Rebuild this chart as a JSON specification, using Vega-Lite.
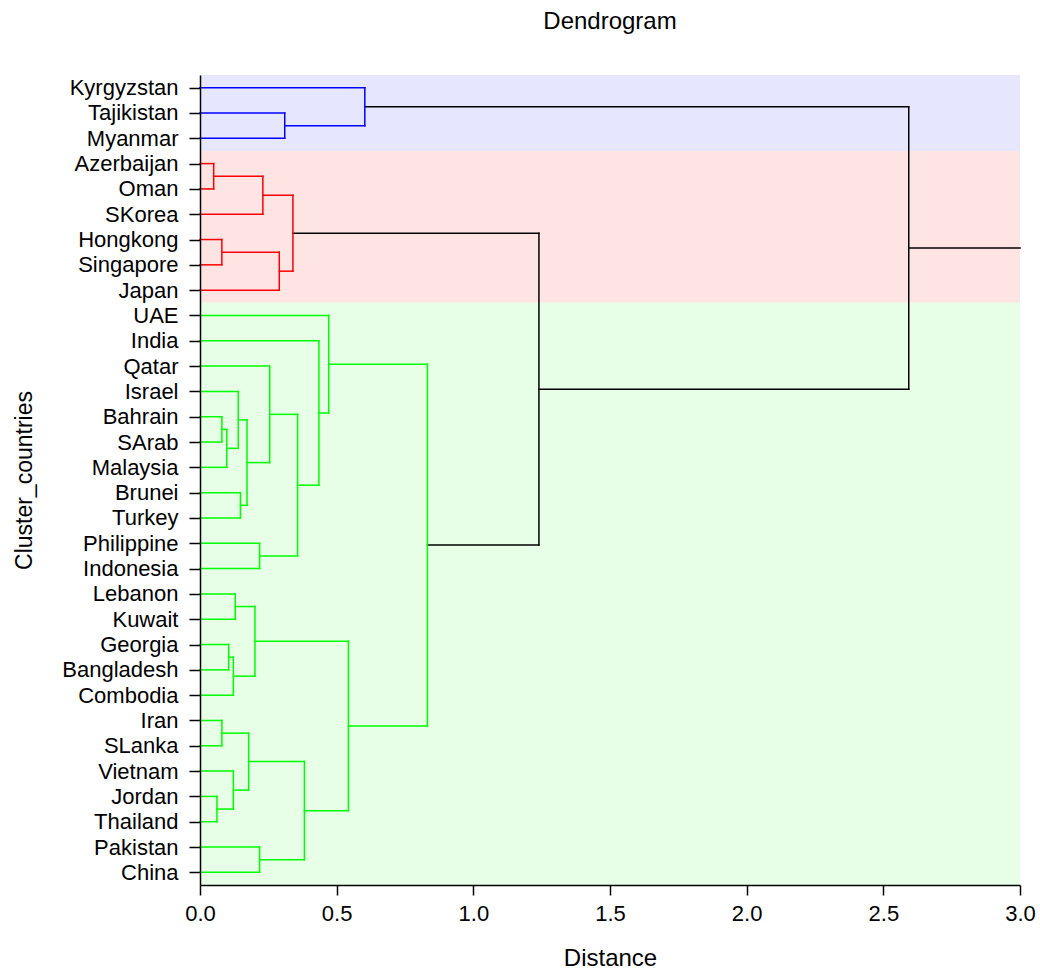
{
  "$schema": "https://vega.github.io/schema/vega-lite/v6.json",
  "width": 820,
  "height": 810,
  "autosize": {"type": "none"},
  "padding": {"left": 200, "top": 75, "right": 20, "bottom": 84},
  "background": "white",
  "title": {"text": "Dendrogram", "fontSize": 24, "font": "Liberation Sans", "fontWeight": "normal", "color": "black", "anchor": "middle", "baseline": "alphabetic", "offset": 22},
  "config": {"view": {"stroke": null}, "font": "Liberation Sans",
    "axis": {"labelOverlap": false, "labelFlush": false, "grid": false}},
  "datasets": {
    "bands": [
      {"y": -0.5, "y2": 2.5, "c": "blue"},
      {"y": 2.5, "y2": 8.5, "c": "red"},
      {"y": 8.5, "y2": 31.5, "c": "green"}
    ],
    "segs": [
      {"x": 0, "x2": 0.603, "y": 0, "y2": 0, "c": "blue"},
      {"x": 0, "x2": 0.31, "y": 1, "y2": 1, "c": "blue"},
      {"x": 0, "x2": 0.31, "y": 2, "y2": 2, "c": "blue"},
      {"x": 0, "x2": 0.05, "y": 3, "y2": 3, "c": "red"},
      {"x": 0, "x2": 0.05, "y": 4, "y2": 4, "c": "red"},
      {"x": 0, "x2": 0.23, "y": 5, "y2": 5, "c": "red"},
      {"x": 0, "x2": 0.08, "y": 6, "y2": 6, "c": "red"},
      {"x": 0, "x2": 0.08, "y": 7, "y2": 7, "c": "red"},
      {"x": 0, "x2": 0.29, "y": 8, "y2": 8, "c": "red"},
      {"x": 0, "x2": 0.471, "y": 9, "y2": 9, "c": "green"},
      {"x": 0, "x2": 0.435, "y": 10, "y2": 10, "c": "green"},
      {"x": 0, "x2": 0.255, "y": 11, "y2": 11, "c": "green"},
      {"x": 0, "x2": 0.14, "y": 12, "y2": 12, "c": "green"},
      {"x": 0, "x2": 0.08, "y": 13, "y2": 13, "c": "green"},
      {"x": 0, "x2": 0.08, "y": 14, "y2": 14, "c": "green"},
      {"x": 0, "x2": 0.098, "y": 15, "y2": 15, "c": "green"},
      {"x": 0, "x2": 0.148, "y": 16, "y2": 16, "c": "green"},
      {"x": 0, "x2": 0.148, "y": 17, "y2": 17, "c": "green"},
      {"x": 0, "x2": 0.218, "y": 18, "y2": 18, "c": "green"},
      {"x": 0, "x2": 0.218, "y": 19, "y2": 19, "c": "green"},
      {"x": 0, "x2": 0.129, "y": 20, "y2": 20, "c": "green"},
      {"x": 0, "x2": 0.129, "y": 21, "y2": 21, "c": "green"},
      {"x": 0, "x2": 0.105, "y": 22, "y2": 22, "c": "green"},
      {"x": 0, "x2": 0.105, "y": 23, "y2": 23, "c": "green"},
      {"x": 0, "x2": 0.122, "y": 24, "y2": 24, "c": "green"},
      {"x": 0, "x2": 0.08, "y": 25, "y2": 25, "c": "green"},
      {"x": 0, "x2": 0.08, "y": 26, "y2": 26, "c": "green"},
      {"x": 0, "x2": 0.122, "y": 27, "y2": 27, "c": "green"},
      {"x": 0, "x2": 0.062, "y": 28, "y2": 28, "c": "green"},
      {"x": 0, "x2": 0.062, "y": 29, "y2": 29, "c": "green"},
      {"x": 0, "x2": 0.218, "y": 30, "y2": 30, "c": "green"},
      {"x": 0, "x2": 0.218, "y": 31, "y2": 31, "c": "green"},
      {"x": 0.31, "x2": 0.603, "y": 1.5, "y2": 1.5, "c": "blue"},
      {"x": 0.603, "x2": 2.593, "y": 0.75, "y2": 0.75, "c": "black"},
      {"x": 0.05, "x2": 0.23, "y": 3.5, "y2": 3.5, "c": "red"},
      {"x": 0.23, "x2": 0.34, "y": 4.25, "y2": 4.25, "c": "red"},
      {"x": 0.08, "x2": 0.29, "y": 6.5, "y2": 6.5, "c": "red"},
      {"x": 0.29, "x2": 0.34, "y": 7.25, "y2": 7.25, "c": "red"},
      {"x": 0.34, "x2": 1.24, "y": 5.75, "y2": 5.75, "c": "black"},
      {"x": 0.08, "x2": 0.098, "y": 13.5, "y2": 13.5, "c": "green"},
      {"x": 0.098, "x2": 0.14, "y": 14.25, "y2": 14.25, "c": "green"},
      {"x": 0.14, "x2": 0.172, "y": 13.125, "y2": 13.125, "c": "green"},
      {"x": 0.148, "x2": 0.172, "y": 16.5, "y2": 16.5, "c": "green"},
      {"x": 0.172, "x2": 0.255, "y": 14.8125, "y2": 14.8125, "c": "green"},
      {"x": 0.255, "x2": 0.357, "y": 12.906, "y2": 12.906, "c": "green"},
      {"x": 0.218, "x2": 0.357, "y": 18.5, "y2": 18.5, "c": "green"},
      {"x": 0.357, "x2": 0.435, "y": 15.703, "y2": 15.703, "c": "green"},
      {"x": 0.435, "x2": 0.471, "y": 12.852, "y2": 12.852, "c": "green"},
      {"x": 0.471, "x2": 0.832, "y": 10.926, "y2": 10.926, "c": "green"},
      {"x": 0.129, "x2": 0.201, "y": 20.5, "y2": 20.5, "c": "green"},
      {"x": 0.105, "x2": 0.122, "y": 22.5, "y2": 22.5, "c": "green"},
      {"x": 0.122, "x2": 0.201, "y": 23.25, "y2": 23.25, "c": "green"},
      {"x": 0.201, "x2": 0.543, "y": 21.875, "y2": 21.875, "c": "green"},
      {"x": 0.08, "x2": 0.178, "y": 25.5, "y2": 25.5, "c": "green"},
      {"x": 0.062, "x2": 0.122, "y": 28.5, "y2": 28.5, "c": "green"},
      {"x": 0.122, "x2": 0.178, "y": 27.75, "y2": 27.75, "c": "green"},
      {"x": 0.178, "x2": 0.382, "y": 26.625, "y2": 26.625, "c": "green"},
      {"x": 0.218, "x2": 0.382, "y": 30.5, "y2": 30.5, "c": "green"},
      {"x": 0.382, "x2": 0.543, "y": 28.5625, "y2": 28.5625, "c": "green"},
      {"x": 0.543, "x2": 0.832, "y": 25.219, "y2": 25.219, "c": "green"},
      {"x": 0.832, "x2": 1.24, "y": 18.07, "y2": 18.07, "c": "black"},
      {"x": 1.24, "x2": 2.593, "y": 11.91, "y2": 11.91, "c": "black"},
      {"x": 2.593, "x2": 3.0, "y": 6.33, "y2": 6.33, "c": "black"},
      {"x": 0.31, "x2": 0.31, "y": 1, "y2": 2, "c": "blue"},
      {"x": 0.603, "x2": 0.603, "y": 0, "y2": 1.5, "c": "blue"},
      {"x": 0.05, "x2": 0.05, "y": 3, "y2": 4, "c": "red"},
      {"x": 0.23, "x2": 0.23, "y": 3.5, "y2": 5, "c": "red"},
      {"x": 0.08, "x2": 0.08, "y": 6, "y2": 7, "c": "red"},
      {"x": 0.29, "x2": 0.29, "y": 6.5, "y2": 8, "c": "red"},
      {"x": 0.34, "x2": 0.34, "y": 4.25, "y2": 7.25, "c": "red"},
      {"x": 0.08, "x2": 0.08, "y": 13, "y2": 14, "c": "green"},
      {"x": 0.098, "x2": 0.098, "y": 13.5, "y2": 15, "c": "green"},
      {"x": 0.14, "x2": 0.14, "y": 12, "y2": 14.25, "c": "green"},
      {"x": 0.148, "x2": 0.148, "y": 16, "y2": 17, "c": "green"},
      {"x": 0.172, "x2": 0.172, "y": 13.125, "y2": 16.5, "c": "green"},
      {"x": 0.255, "x2": 0.255, "y": 11, "y2": 14.8125, "c": "green"},
      {"x": 0.218, "x2": 0.218, "y": 18, "y2": 19, "c": "green"},
      {"x": 0.357, "x2": 0.357, "y": 12.906, "y2": 18.5, "c": "green"},
      {"x": 0.435, "x2": 0.435, "y": 10, "y2": 15.703, "c": "green"},
      {"x": 0.471, "x2": 0.471, "y": 9, "y2": 12.852, "c": "green"},
      {"x": 0.129, "x2": 0.129, "y": 20, "y2": 21, "c": "green"},
      {"x": 0.105, "x2": 0.105, "y": 22, "y2": 23, "c": "green"},
      {"x": 0.122, "x2": 0.122, "y": 22.5, "y2": 24, "c": "green"},
      {"x": 0.201, "x2": 0.201, "y": 20.5, "y2": 23.25, "c": "green"},
      {"x": 0.08, "x2": 0.08, "y": 25, "y2": 26, "c": "green"},
      {"x": 0.062, "x2": 0.062, "y": 28, "y2": 29, "c": "green"},
      {"x": 0.122, "x2": 0.122, "y": 27, "y2": 28.5, "c": "green"},
      {"x": 0.178, "x2": 0.178, "y": 25.5, "y2": 27.75, "c": "green"},
      {"x": 0.218, "x2": 0.218, "y": 30, "y2": 31, "c": "green"},
      {"x": 0.382, "x2": 0.382, "y": 26.625, "y2": 30.5, "c": "green"},
      {"x": 0.543, "x2": 0.543, "y": 21.875, "y2": 28.5625, "c": "green"},
      {"x": 0.832, "x2": 0.832, "y": 10.926, "y2": 25.219, "c": "green"},
      {"x": 1.24, "x2": 1.24, "y": 5.75, "y2": 18.07, "c": "black"},
      {"x": 2.593, "x2": 2.593, "y": 0.75, "y2": 11.91, "c": "black"}
    ]
  },
  "layer": [
    {
      "data": {"name": "bands"},
      "mark": {"type": "rect", "strokeWidth": 0},
      "encoding": {
        "x": {"datum": 0, "type": "quantitative", "scale": {"domain": [0, 3], "nice": false, "zero": false},
          "axis": {"title": "Distance", "values": [0, 0.5, 1, 1.5, 2, 2.5, 3], "tickCount": 20, "format": ".1f", "grid": false, "zindex": 1,
            "domainColor": "black", "domainWidth": 1.5, "tickColor": "black", "tickWidth": 1.5, "tickSize": 10,
            "labelFontSize": 22, "labelFont": "Liberation Sans", "labelColor": "black", "labelPadding": 8, "labelFlush": false, "labelOverlap": false,
            "titleFontSize": 24, "titleFont": "Liberation Sans", "titleFontWeight": "normal", "titleColor": "black",
            "titleX": 410, "titleY": 80, "titleAlign": "center", "titleBaseline": "alphabetic"}},
        "x2": {"datum": 3},
        "y": {"field": "y", "type": "quantitative", "scale": {"domain": [-0.5, 31.5], "reverse": true, "nice": false, "zero": false},
          "axis": {"title": "Cluster_countries", "values": [0,1,2,3,4,5,6,7,8,9,10,11,12,13,14,15,16,17,18,19,20,21,22,23,24,25,26,27,28,29,30,31],
            "tickCount": 64,
            "labelExpr": "['Kyrgyzstan','Tajikistan','Myanmar','Azerbaijan','Oman','SKorea','Hongkong','Singapore','Japan','UAE','India','Qatar','Israel','Bahrain','SArab','Malaysia','Brunei','Turkey','Philippine','Indonesia','Lebanon','Kuwait','Georgia','Bangladesh','Combodia','Iran','SLanka','Vietnam','Jordan','Thailand','Pakistan','China'][datum.value]",
            "grid": false, "zindex": 1,
            "domainColor": "black", "domainWidth": 1.5, "tickColor": "black", "tickWidth": 1.5, "tickSize": 11,
            "labelFontSize": 22, "labelFont": "Liberation Sans", "labelColor": "black", "labelPadding": 11, "labelOverlap": false, "labelFlush": false, "labelBaseline": "middle",
            "titleFontSize": 23, "titleFont": "Liberation Sans", "titleFontWeight": "normal", "titleColor": "black",
            "titleAngle": -90, "titleX": -169, "titleY": 405, "titleAlign": "center", "titleBaseline": "alphabetic"}},
        "y2": {"field": "y2"},
        "fill": {"field": "c", "type": "nominal", "scale": {"domain": ["blue", "red", "green"], "range": ["#e6e6ff", "#ffe4e4", "#e6ffe6"]}, "legend": null}
      }
    },
    {
      "data": {"name": "segs"},
      "mark": {"type": "rule", "strokeWidth": 1.5, "strokeCap": "square"},
      "encoding": {
        "x": {"field": "x", "type": "quantitative"},
        "x2": {"field": "x2"},
        "y": {"field": "y", "type": "quantitative"},
        "y2": {"field": "y2"},
        "stroke": {"field": "c", "type": "nominal", "scale": {"domain": ["blue", "red", "green", "black"], "range": ["#0000ff", "#ff0000", "#00ff00", "#000000"]}, "legend": null}
      }
    }
  ]
}
